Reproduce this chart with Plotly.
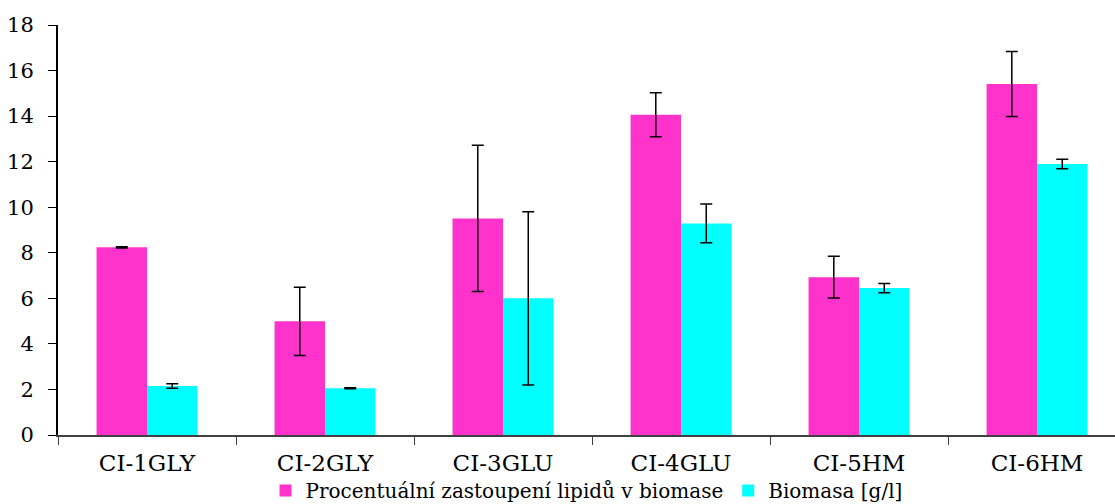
import plotly.graph_objects as go

categories = ["CI-1GLY", "CI-2GLY", "CI-3GLU", "CI-4GLU", "CI-5HM", "CI-6HM"]
lipids = [8.24, 4.99, 9.51, 14.06, 6.93, 15.41]
lipids_err = [0.03, 1.5, 3.21, 0.97, 0.92, 1.43]
biomass = [2.15, 2.05, 6.0, 9.29, 6.45, 11.9]
biomass_err = [0.1, 0.02, 3.8, 0.85, 0.2, 0.21]
y_ticks = [0, 2, 4, 6, 8, 10, 12, 14, 16, 18]

font = "DejaVu Serif"

fig = go.Figure()
fig.add_trace(go.Bar(
    x=categories, y=lipids, name="Procentuální zastoupení lipidů v biomase",
    marker=dict(color="#FF33CC", line=dict(width=0)),
    error_y=dict(type="data", array=lipids_err, color="black", thickness=1.5, width=6),
))
fig.add_trace(go.Bar(
    x=categories, y=biomass, name="Biomasa [g/l]",
    marker=dict(color="#00FFFF", line=dict(width=0)),
    error_y=dict(type="data", array=biomass_err, color="black", thickness=1.5, width=6),
))

fig.update_layout(
    width=1115, height=504,
    margin=dict(l=58, r=0, t=25, b=69, autoexpand=False),
    paper_bgcolor="white", plot_bgcolor="white",
    barmode="group", bargap=0.433, bargroupgap=0,
    font=dict(family=font, size=20, color="black"),
    legend=dict(orientation="h", x=0.5, xanchor="center", y=-0.088, yanchor="top",
                font=dict(family=font, size=20, color="black"), itemwidth=30,
                tracegroupgap=0, bgcolor="rgba(0,0,0,0)"),
    showlegend=True,
)
fig.update_xaxes(
    range=[-0.5, 5.438], showline=True, linecolor="#404040", linewidth=2,
    ticks="outside", tickson="boundaries", ticklen=8, tickcolor="#404040",
    showgrid=False, tickfont=dict(family=font, size=23), automargin=False,
    ticklabelstandoff=6,
)
fig.update_yaxes(
    range=[0, 18], tickvals=y_ticks, showline=True, linecolor="black", linewidth=2,
    ticks="outside", ticklen=8, tickcolor="black", showgrid=False, zeroline=False,
    tickfont=dict(family=font, size=21), automargin=False, ticklabelstandoff=10,
)

fig.write_html("out.html")
